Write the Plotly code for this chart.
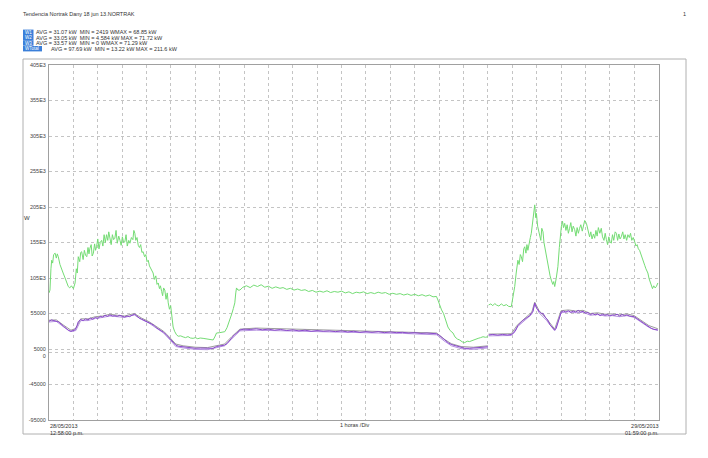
import plotly.graph_objects as go

# ---------------- data (hours after 28/05/2013 12:58 p.m., W) ----------------
total_t = [0.00,0.04,0.08,0.11,0.15,0.19,0.25,0.30,0.34,0.38,0.45,0.52,0.58,0.66,0.72,0.79,0.85,0.92,1.00,1.07,
           1.12,1.16,1.20,1.26,1.30,1.34,1.40,1.45,1.50,1.55,1.60,1.64,1.68,1.73,1.77,1.82,1.87,1.91,1.95,2.00,
           2.05,2.10,2.16,2.21,2.26,2.31,2.36,2.41,2.45,2.50,2.55,2.60,2.65,2.70,2.75,2.80,2.86,2.91,2.96,3.01,
           3.06,3.11,3.16,3.21,3.27,3.32,3.38,3.44,3.48,3.52,3.56,3.61,3.66,3.71,3.76,3.81,3.86,3.92,3.97,4.02,
           4.07,4.12,4.17,4.22,4.27,4.32,4.38,4.43,4.48,4.53,4.57,4.62,4.66,4.70,4.75,4.80,4.85,4.89,4.94,4.99,
           5.03,5.06,5.09,5.15,5.23,5.30,5.40,5.50,5.60,5.70,5.80,5.91,6.00,6.10,6.20,6.32,6.45,6.55,6.65,6.73,
           6.80,6.87,7.00,7.10,7.21,7.30,7.42,7.50,7.56,7.62,7.66,7.69,7.75,7.83,
           7.95,8.10,8.25,8.40,8.55,8.70,8.85,9.00,9.15,9.30,9.47,9.60,9.75,9.90,10.05,10.20,10.35,10.50,10.65,10.80,
           10.95,11.11,11.25,11.40,11.55,11.70,11.85,12.00,12.15,12.30,12.45,12.60,12.75,12.90,13.05,13.20,13.35,13.50,13.65,13.80,
           13.95,14.10,14.25,14.40,14.55,14.70,14.85,15.00,15.15,15.30,15.45,15.60,15.75,15.89,15.95,16.02,16.10,16.18,16.23,16.30,
           16.36,16.45,16.57,16.65,16.75,16.84,16.95,17.05,17.15,17.25,17.39,17.50,17.60,17.70,17.80,17.90,18.00,None,
           18.03,18.12,18.20,18.28,18.35,18.45,18.55,18.65,18.76,18.85,18.96,19.03,19.10,19.16,19.23,19.28,19.33,19.37,19.42,19.47,
           19.51,19.56,19.60,19.64,19.70,19.74,19.78,19.83,19.88,19.92,19.96,19.99,20.04,20.08,20.12,20.17,20.21,20.26,20.30,20.35,
           20.40,20.45,20.50,20.55,20.60,20.66,20.70,20.74,20.80,20.87,20.93,20.97,21.01,21.06,21.10,21.15,21.20,21.25,21.30,21.35,
           21.40,21.45,21.50,21.56,21.61,21.66,21.71,21.76,21.81,21.87,21.92,21.97,22.04,22.09,22.13,22.17,22.22,22.27,22.33,22.38,
           22.43,22.48,22.53,22.59,22.65,22.70,22.76,22.81,22.86,22.91,22.96,23.01,23.06,23.11,23.16,23.22,23.27,23.32,23.37,23.42,
           23.47,23.53,23.58,23.63,23.69,23.74,23.80,23.85,23.90,23.96,24.02,24.07,24.12,24.17,24.22,24.28,24.33,24.38,24.43,24.48,
           24.52,24.56,24.61,24.66,24.70,24.75,24.80,24.86,24.91,24.97]
total_w = [84000,88000,118000,130000,126000,138000,140000,133000,139000,135000,124000,116000,112000,105000,99000,93000,91000,94000,90000,98000,
           118000,112000,135000,128000,141000,142000,131000,144000,137000,135000,148000,139000,147000,152000,136000,140000,153000,144000,149000,160000,
           146000,155000,158000,150000,166000,155000,166000,158000,170000,163000,152000,166000,159000,161000,172000,154000,164000,158000,151000,163000,
           155000,156000,166000,150000,158000,154000,162000,159000,172000,168000,158000,162000,151000,148000,152000,141000,142000,135000,138000,128000,
           130000,122000,119000,114000,112000,103000,108000,96000,98000,90000,94000,86000,80000,91000,88000,75000,84000,70000,61000,66000,
           56000,45000,36000,30000,25000,23000,23500,22000,21000,22500,20500,20000,21000,19500,20500,20000,19000,18500,18000,17700,
           22000,27500,28000,28500,29400,35000,46000,55000,62000,70000,84000,91000,88000,88000,
           92000,94000,91500,95000,93000,95500,92000,93500,90500,92500,90500,91500,89000,90500,88000,89500,87500,88500,86000,87500,
           85000,86500,85000,87000,84500,86000,85000,86500,84000,85500,83000,85000,84000,85500,83000,84500,83000,85000,83500,84500,
           82000,83500,82000,83000,81000,82500,80500,82000,80000,81500,79500,81000,78500,79000,74000,67000,60000,55000,50500,42000,
           36000,31000,27500,22000,19000,17700,15000,14000,16000,15500,17700,18500,20000,21000,22300,21500,22300,None,
           67000,68500,66000,69000,67000,65500,68500,66000,67500,65000,64600,78000,93000,112000,130000,124000,138000,135000,128000,146000,
           149000,140000,152000,144000,158000,162000,168000,182000,196000,208000,190000,196000,178000,170000,163000,158000,175000,170000,155000,146000,
           135000,126000,114000,108000,102000,96000,100000,93000,104000,121000,148000,165000,177000,185000,176000,182000,172000,180000,168000,175000,
           183000,170000,178000,173000,164000,176000,168000,175000,180000,171000,178000,186000,182000,174000,168000,163000,170000,160000,167000,161000,
           172000,164000,176000,168000,175000,163000,158000,168000,159000,152000,163000,156000,154000,166000,158000,170000,168000,158000,167000,160000,
           163000,170000,160000,166000,158000,166000,162000,168000,158000,162000,156000,150000,152000,146000,144000,137000,132000,128000,123000,118000,
           115000,112000,104000,98000,93000,90000,94000,91000,93000,98000]

p1_t = [0.00,0.10,0.20,0.30,0.40,0.50,0.60,0.70,0.80,0.90,1.00,1.07,1.15,1.20,1.30,1.40,1.50,1.60,1.70,1.80,
        1.90,2.00,2.10,2.20,2.30,2.40,2.50,2.60,2.70,2.80,2.90,3.00,3.10,3.20,3.30,3.40,3.52,3.60,3.70,3.80,
        3.90,4.00,4.10,4.20,4.30,4.40,4.50,4.60,4.70,4.80,4.90,5.00,5.10,5.20,5.30,5.45,5.60,5.80,6.00,6.20,
        6.40,6.60,6.73,6.87,7.00,7.20,7.30,7.42,7.50,7.60,7.69,7.83,
        8.00,8.25,8.50,8.75,9.00,9.25,9.50,9.75,10.00,10.25,10.50,10.75,11.00,11.25,11.50,11.75,12.00,12.25,12.50,12.75,
        13.00,13.25,13.50,13.75,14.00,14.25,14.50,14.75,15.00,15.25,15.50,15.89,16.02,16.15,16.23,16.40,16.57,16.75,16.90,17.05,
        17.25,17.39,17.60,17.80,18.00,None,
        18.03,18.20,18.40,18.60,18.80,18.96,19.05,19.15,19.23,19.33,19.45,19.55,19.64,19.72,19.78,19.85,19.92,19.97,20.00,20.06,
        20.12,20.20,20.26,20.35,20.45,20.55,20.65,20.74,20.80,20.87,20.95,21.01,21.10,21.20,21.30,21.40,21.50,21.60,21.70,21.80,
        21.90,22.00,22.10,22.20,22.30,22.40,22.50,22.60,22.70,22.80,22.90,23.00,23.10,23.20,23.30,23.40,23.50,23.60,23.70,23.80,
        24.00,24.10,24.22,24.35,24.50,24.60,24.70,24.80,24.97]
p1_w = [44000,46000,45000,44500,43000,40000,37000,33500,31000,30000,31000,32000,38000,43500,46500,45000,47500,46000,48500,47000,
        49500,48000,51000,50000,52500,51000,53000,51500,52000,51000,52500,51500,50000,51500,50500,52500,54000,51500,48500,47000,
        45000,43500,42000,40500,38500,35000,33000,31000,28500,25500,22000,18000,14000,10500,9000,8200,7500,6500,6000,6300,
        5800,6000,6000,8500,9000,10500,12500,17700,21000,25000,27100,31800,
        33000,32500,33500,32000,33000,31500,32500,31000,32000,30500,31500,30000,31000,30000,30500,29500,30500,29000,30000,28500,
        29500,28500,29500,28000,29000,28000,28500,27500,28000,27000,27500,26500,24000,20000,17700,13000,10600,8500,7000,6000,
        6000,6200,6500,7500,8200,None,
        24700,25500,24500,25500,24700,25500,27100,31800,38000,42000,45800,48000,50000,52000,55300,58000,69800,64000,62300,60000,
        57000,55000,55300,50000,45800,39000,35000,31800,34000,41200,50000,57500,58500,57000,59000,56500,58500,57000,59500,57000,
        58000,55500,56500,53500,55000,53000,54500,52000,54000,52500,53500,51500,53000,52500,54000,51500,53500,52000,53000,51500,
        50500,48000,45800,42000,38800,36500,34000,32500,32000]

p23_t = [0.0,0.3,0.6,0.9,1.1,1.3,1.6,1.9,2.2,2.5,2.8,3.1,3.5,3.8,4.1,4.4,4.7,5.0,5.2,5.5,
         6.0,6.5,6.9,7.2,7.5,7.83,8.5,9.5,10.5,11.5,12.5,13.5,14.5,15.5,15.9,16.2,16.5,16.9,17.4,18.0,None,
         18.03,18.5,18.96,19.2,19.5,19.8,19.92,20.1,20.4,20.74,21.0,21.3,21.6,21.9,22.2,22.5,22.8,23.1,23.4,23.7,
         24.0,24.3,24.6,24.97]
p2_w = [45500,46000,38500,31500,34000,47500,47500,50500,51500,54000,52500,51500,55000,48500,43500,36500,30000,19500,12000,9500,
        7500,7000,9500,12000,22500,33000,34500,33500,32500,31500,31000,30500,29500,28500,27500,19000,12500,8500,7500,9500,None,
        26000,26500,26500,38500,48000,57000,71000,59000,48000,33000,59000,60000,58500,59500,55000,56000,54000,54500,53000,54500,
        52000,44500,38000,33500]
p3_w = [43000,44000,36000,29500,31000,45000,45000,48000,49500,51500,50500,49500,53000,46500,41500,34000,27500,16500,8500,6500,
        4500,4000,7000,9500,19500,30500,31500,30500,30000,29000,28500,27500,27000,26000,25000,16500,9500,5500,4500,6500,None,
        23500,24000,24000,36000,45000,54000,68000,56000,45500,30500,56000,57500,56000,57000,52500,53500,51500,52000,50500,52000,
        49500,42000,35500,31000]

series_names = ["W1", "W2", "W3", "WTotal"]
series_stats = ["AVG = 31.07 kW  MIN = 2419 WMAX = 68.85 kW",
                "AVG = 33.05 kW  MIN = 4.584 kW MAX = 71.72 kW",
                "AVG = 33.57 kW  MIN = 0 WMAX = 71.29 kW",
                "AVG = 97.69 kW  MIN = 13.22 kW MAX = 211.6 kW"]

y_tickvals = [405000, 355000, 305000, 255000, 205000, 155000, 105000, 55000, 5000, 0, -45000, -95000]
y_ticktext = ["405E3", "355E3", "305E3", "255E3", "205E3", "155E3", "105E3", "55000", "5000", "<br>0", "-45000", "-95000"]

title_text = "Tendencia Nortrak Dany 18 jun 13.NORTRAK"
x_start_label = "28/05/2013<br>12:58:00 p.m."
x_end_label = "29/05/2013<br>01:59:00 p.m."
x_mid_label = "1 horas /Div"
x_span_hours = 25.017

# ---------------- figure ----------------
# the page body has an 8px margin, so the figure is drawn 8px in from the window edge
OFF = 8
W, H = 708 - OFF, 458 - OFF
L, R, T, B = 49 - OFF, 659 - OFF, 65 - OFF, 420 - OFF

def px(x):
    return (x - OFF - L) / (R - L)

def py(y):
    return (B - (y - OFF)) / (B - T)

FONT = "Liberation Sans, Arial, sans-serif"
TXT = "#333333"

fig = go.Figure()
fig.add_trace(go.Scatter(x=total_t, y=total_w, mode="lines", line=dict(color="#74dc74", width=1),
                         name="WTotal", connectgaps=False))
fig.add_trace(go.Scatter(x=p23_t, y=p2_w, mode="lines", line=dict(color="#9c9c9c", width=1),
                         name="W2", connectgaps=False))
fig.add_trace(go.Scatter(x=p23_t, y=p3_w, mode="lines", line=dict(color="#b592e0", width=1),
                         name="W3", connectgaps=False))
fig.add_trace(go.Scatter(x=p1_t, y=p1_w, mode="lines", line=dict(color="#8a48cc", width=1),
                         name="W1", connectgaps=False))

fig.update_layout(
    width=W, height=H,
    margin=dict(l=L, r=W - R, t=T, b=H - B),
    paper_bgcolor="white", plot_bgcolor="white",
    showlegend=False,
    font=dict(family=FONT, size=6, color=TXT),
    xaxis=dict(range=[0, x_span_hours], tick0=0, dtick=1, showticklabels=False,
               showgrid=True, gridcolor="#c4c4c4", griddash="dot", gridwidth=1,
               zeroline=False, showline=True, linecolor="#a0a0a0", linewidth=1, mirror=True,
               ticks=""),
    yaxis=dict(range=[-95000, 405000], tickmode="array", tickvals=y_tickvals, ticktext=y_ticktext,
               showgrid=True, gridcolor="#c4c4c4", griddash="dot", gridwidth=1,
               zeroline=False, showline=True, linecolor="#a0a0a0", linewidth=1, mirror=True,
               ticks="", tickfont=dict(size=5.5, color="#444444"), ticklabelstandoff=1),
)

# outer frame
fig.add_shape(type="rect", xref="paper", yref="paper",
              x0=px(23), x1=px(686), y0=py(434), y1=py(59),
              line=dict(color="#b0b0b0", width=1), fillcolor="rgba(0,0,0,0)", layer="below")

ann = []
ann.append(dict(x=px(22), y=py(14), text=title_text, xanchor="left", yanchor="middle",
                font=dict(size=5.5, color=TXT)))
ann.append(dict(x=px(684), y=py(14), text="1", xanchor="center", yanchor="middle",
                font=dict(size=5.5, color=TXT)))

row_y = [32.3, 37.7, 43.0, 48.7]
for i, (nm, st) in enumerate(zip(series_names, series_stats)):
    if i < 3:
        bx0, bx1, tx = 23, 33.5, 35
    else:
        bx0, bx1, tx = 23, 42, 49.5
    fig.add_shape(type="rect", xref="paper", yref="paper",
                  x0=px(bx0), x1=px(bx1), y0=py(row_y[i] + 2.7), y1=py(row_y[i] - 2.7),
                  line=dict(width=0), fillcolor="#3b7fd9")
    ann.append(dict(x=px(bx0 + 1), y=py(row_y[i]), text=nm, xanchor="left", yanchor="middle",
                    font=dict(size=4.5, color="white")))
    ann.append(dict(x=px(tx), y=py(row_y[i]), text=st, xanchor="left", yanchor="middle",
                    font=dict(size=5.5, color=TXT)))

ann.append(dict(x=px(27), y=py(218), text="W", xanchor="center", yanchor="middle",
                font=dict(size=6, color=TXT)))
ann.append(dict(x=px(49), y=py(421.5), text=x_start_label, xanchor="left", yanchor="top", align="left",
                font=dict(size=5.5, color=TXT)))
ann.append(dict(x=px(660), y=py(421.5), text=x_end_label, xanchor="right", yanchor="top", align="right",
                font=dict(size=5.5, color=TXT)))
ann.append(dict(x=px(355), y=py(425), text=x_mid_label, xanchor="center", yanchor="middle",
                font=dict(size=5.5, color=TXT)))

for a in ann:
    a.update(xref="paper", yref="paper", showarrow=False, borderpad=0)
fig.update_layout(annotations=ann)

fig.write_html("out.html")
